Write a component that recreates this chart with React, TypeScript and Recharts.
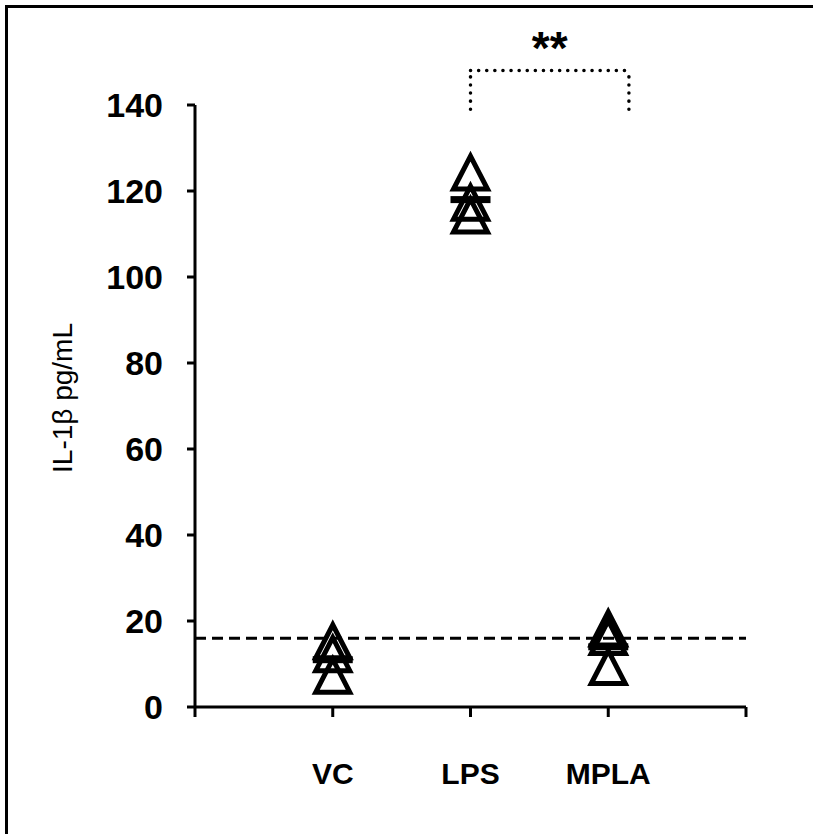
import React from "react"
import { ScatterChart, Scatter, XAxis, YAxis, ReferenceLine } from "recharts"

// groups on the x axis (positions 1..3)
const categories = ["VC", "LPS", "MPLA"]
const xTicks = [0, 1, 2, 3, 4]
const yTicks = [0, 20, 40, 60, 80, 100, 120, 140]

// individual replicates
const vcValues = [14, 11, 6]
const lpsValues = [123, 116, 113]
const mplaValues = [17, 15, 8]

// group means (thick bars)
const meanValues = [11, 118, 14]

// dashed detection-limit line
const baseline = 16

// significance bracket LPS vs MPLA
const bracketFrom = 2
const bracketTo = 3.15
const bracketLow = 139
const bracketHigh = 148
const bracketLabel = "**"

const groups = [vcValues, lpsValues, mplaValues]
const points = groups.flatMap((vals, i) => vals.map(v => ({ x: i + 1, y: v })))
const means = meanValues.map((v, i) => ({ x: i + 1, y: v }))

const font = "'Liberation Sans', Arial, sans-serif"

const Triangle = (props: any) => {
    const { cx, cy } = props
    if (cx == null || cy == null) return null
    const pts = `${cx},${cy - 22} ${cx - 17},${cy + 11} ${cx + 17},${cy + 11}`
    return <polygon points={pts} fill="none" stroke="#000" strokeWidth={5} strokeLinejoin="miter" />
}

const MeanBar = (props: any) => {
    const { cx, cy } = props
    if (cx == null || cy == null) return null
    return <rect x={cx - 20} y={cy - 3.5} width={40} height={7} fill="#000" />
}

const YLabel = (props: any) => {
    const vb = props.viewBox || { x: 0, y: 0, width: 0, height: 0 }
    const x = vb.x + 62
    const y = vb.y + vb.height / 2 - 8
    return (
        <text x={x} y={y} transform={`rotate(-90, ${x}, ${y})`} textAnchor="middle" dominantBaseline="central"
            fontSize={28} fontFamily={font} fill="#000">
            IL-1β pg/mL
        </text>
    )
}

const dotted = { stroke: "#000", strokeWidth: 3.5, strokeDasharray: "0.1 8", strokeLinecap: "round" as const }

export default function App() {
    return (
        <div style={{ position: "absolute", left: 0, top: 0, width: 813, height: 834, background: "#fff", overflow: "hidden" }}>
            {/* frame: only the top and left edges show in the scan */}
            <div style={{ position: "absolute", left: 5, top: 5, width: 808, height: 3, background: "#000" }} />
            <div style={{ position: "absolute", left: 5, top: 5, width: 3, height: 829, background: "#000" }} />
            <div style={{ position: "absolute", left: 0, top: 0 }}>
                <ScatterChart width={813} height={834} margin={{ top: 105, right: 67, bottom: 0, left: 0 }}>
                    <XAxis
                        dataKey="x"
                        type="number"
                        domain={[0, 4]}
                        ticks={xTicks}
                        tickFormatter={(v: number) => categories[v - 1] ?? ""}
                        height={127}
                        axisLine={{ stroke: "#000", strokeWidth: 3 }}
                        tickLine={{ stroke: "#000", strokeWidth: 3 }}
                        tickSize={10}
                        tickMargin={46}
                        tick={{ fill: "#000", fontSize: 30, fontWeight: "bold", fontFamily: font }}
                    />
                    <YAxis
                        dataKey="y"
                        type="number"
                        domain={[0, 140]}
                        ticks={yTicks}
                        width={195}
                        axisLine={{ stroke: "#000", strokeWidth: 3 }}
                        tickLine={{ stroke: "#000", strokeWidth: 3 }}
                        tickSize={8}
                        tickMargin={24}
                        tick={{ fill: "#000", fontSize: 34, fontWeight: "bold", fontFamily: font }}
                        label={{ content: YLabel }}
                    />
                    <ReferenceLine y={baseline} stroke="#000" strokeWidth={3} strokeDasharray="11 6" />
                    <Scatter data={points} shape={Triangle} isAnimationActive={false} />
                    <Scatter data={means} shape={MeanBar} isAnimationActive={false} />
                    <ReferenceLine ifOverflow="visible" segment={[{ x: bracketFrom, y: bracketLow }, { x: bracketFrom, y: bracketHigh }]} {...dotted} />
                    <ReferenceLine ifOverflow="visible" segment={[{ x: bracketTo, y: bracketLow }, { x: bracketTo, y: bracketHigh }]} {...dotted} />
                    <ReferenceLine
                        ifOverflow="visible"
                        segment={[{ x: bracketFrom, y: bracketHigh }, { x: bracketTo, y: bracketHigh }]}
                        {...dotted}
                        label={{ value: bracketLabel, position: "top", offset: 7, fill: "#000", fontSize: 46, fontWeight: "bold", fontFamily: font }}
                    />
                </ScatterChart>
            </div>
        </div>
    )
}
